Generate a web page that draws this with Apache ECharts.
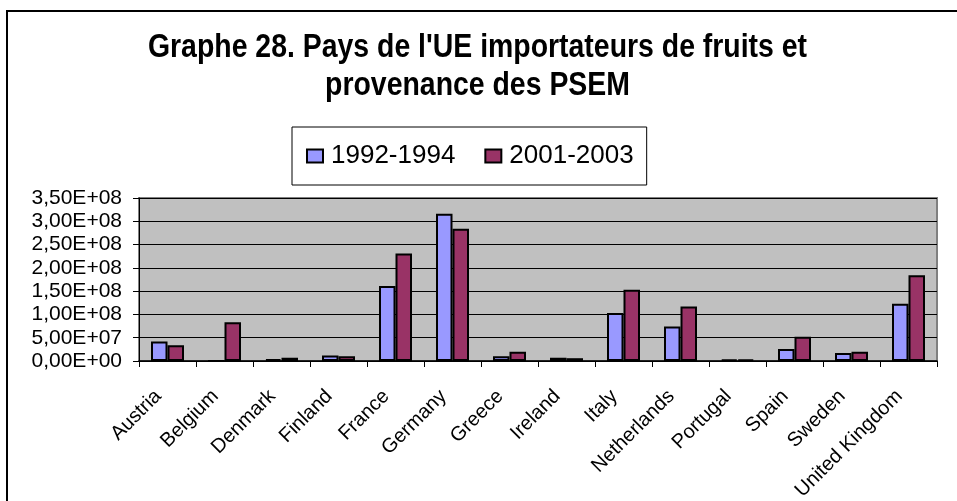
<!DOCTYPE html>
<html>
<head>
<meta charset="utf-8">
<script src="https://cdn.jsdelivr.net/npm/echarts@6/dist/echarts.min.js"></script>
<style>
html,body{margin:0;padding:0;background:#fff;}
#c{width:957px;height:501px;}
</style>
</head>
<body>
<div id="c"></div>
<script>
const categories = ['Austria','Belgium','Denmark','Finland','France','Germany','Greece','Ireland','Italy','Netherlands','Portugal','Spain','Sweden','United Kingdom'];
const values1992 = [4.2e7, 0, 4e6, 1.2e7, 1.61e8, 3.16e8, 1.0e7, 7e6, 1.03e8, 7.4e7, 3e6, 2.6e7, 1.7e7, 1.23e8];
const values2001 = [3.4e7, 8.3e7, 7e6, 1.0e7, 2.31e8, 2.84e8, 2.0e7, 6e6, 1.53e8, 1.17e8, 3e6, 5.2e7, 2.0e7, 1.84e8];
const seriesNames = ['1992-1994', '2001-2003'];
const titleText = "Graphe 28. Pays de l'UE importateurs de fruits et\nprovenance des PSEM";

function sci(v) {
  if (v === 0) return '0,00E+00';
  const e = Math.floor(Math.log10(v) + 1e-9);
  const m = v / Math.pow(10, e);
  return m.toFixed(2).replace('.', ',') + 'E+' + (e < 10 ? '0' + e : '' + e);
}

const chart = echarts.init(document.getElementById('c'), null, {renderer: 'canvas'});
chart.setOption({
  animation: false,
  backgroundColor: '#fff',
  graphic: [{
    type: 'rect', silent: true, z: -1,
    shape: {x: 7, y: 11, width: 1000, height: 600},
    style: {fill: 'none', stroke: '#000', lineWidth: 2}
  }, {
    type: 'text', silent: true,
    x: 477.5, y: 29,
    scaleX: 0.836,
    style: {
      text: titleText,
      align: 'center',
      verticalAlign: 'top',
      fontFamily: '"Liberation Sans", Arial, sans-serif',
      fontWeight: 'bold',
      fontSize: 34,
      lineHeight: 38,
      fill: '#000'
    }
  }],
  legend: {
    data: seriesNames,
    left: 292,
    top: 127,
    padding: [15, 13, 15, 14],
    borderColor: '#000',
    borderWidth: 1,
    backgroundColor: '#fff',
    itemWidth: 16,
    itemHeight: 13,
    itemGap: 29,
    icon: 'rect',
    textStyle: {
      fontFamily: '"Liberation Sans", Arial, sans-serif',
      fontSize: 26,
      lineHeight: 28,
      color: '#000',
      padding: [0, 0, 0, 3]
    }
  },
  grid: {
    left: 139, right: 20, top: 198, bottom: 140,
    show: true,
    backgroundColor: '#c0c0c0',
    borderColor: '#808080',
    borderWidth: 2,
    outerBoundsMode: 'none',
    containLabel: false
  },
  xAxis: {
    type: 'category',
    data: categories,
    axisLine: {lineStyle: {color: '#000', width: 1.5}},
    axisTick: {show: true, length: 6, lineStyle: {color: '#000', width: 1}},
    axisLabel: {
      rotate: 45,
      interval: 0,
      margin: 23,
      padding: [0, 13, 0, 0],
      fontFamily: '"Liberation Sans", Arial, sans-serif',
      fontSize: 20,
      color: '#000'
    }
  },
  yAxis: {
    type: 'value',
    min: 0,
    max: 3.5e8,
    interval: 5e7,
    axisLine: {show: true, lineStyle: {color: '#000', width: 1}},
    axisTick: {show: true, length: 6, lineStyle: {color: '#000'}},
    splitLine: {show: true, lineStyle: {color: '#000', width: 1}},
    axisLabel: {
      formatter: sci,
      margin: 17,
      fontFamily: '"Liberation Sans", Arial, sans-serif',
      fontSize: 21,
      color: '#000'
    }
  },
  series: [
    {
      name: seriesNames[0], type: 'bar', data: values1992,
      barWidth: 16.5, barGap: '0%',
      itemStyle: {color: '#9999ff', borderColor: '#000', borderWidth: 2}
    },
    {
      name: seriesNames[1], type: 'bar', data: values2001,
      barWidth: 16.5, barGap: '0%',
      itemStyle: {color: '#993366', borderColor: '#000', borderWidth: 2}
    }
  ]
});
</script>
</body>
</html>
